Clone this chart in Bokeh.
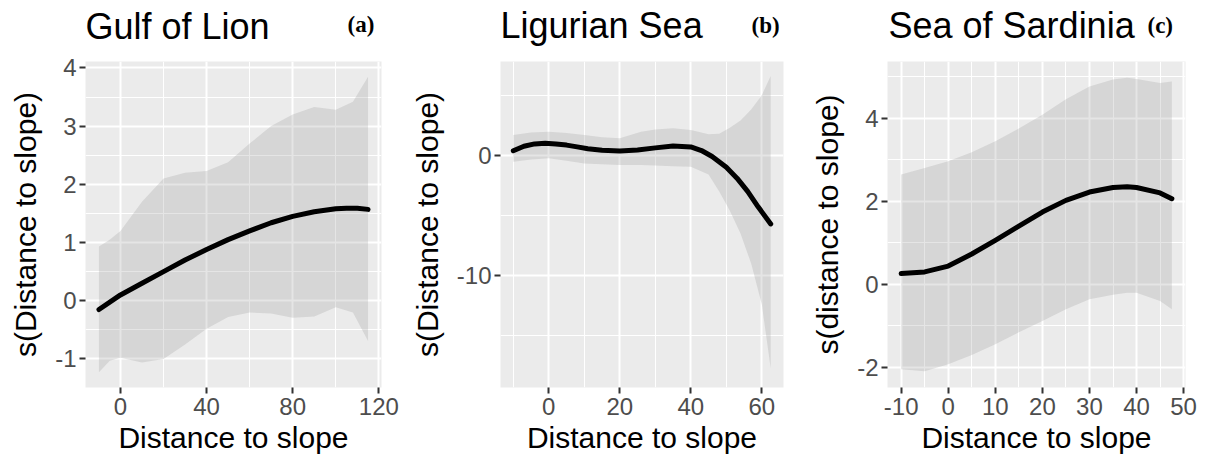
from bokeh.plotting import figure
from bokeh.layouts import row, column
from bokeh.models import FixedTicker, Range1d
from bokeh.core.properties import value
from bokeh.embed import file_html
from bokeh.resources import INLINE

# ---------------- data ----------------
# (a) Gulf of Lion
xa_fit = [-10, 0, 10, 20, 30, 40, 50, 60, 70, 80, 90, 100, 105, 110, 115]
fit_a = [-0.15, 0.1, 0.3, 0.5, 0.7, 0.88, 1.05, 1.2, 1.34, 1.45, 1.53, 1.58, 1.59, 1.59, 1.57]
xa_band = [-10, -5, 0, 10, 20, 30, 40, 50, 60, 70, 80, 90, 100, 108, 115]
upper_a = [0.93, 1.05, 1.2, 1.7, 2.1, 2.2, 2.23, 2.38, 2.7, 3.0, 3.2, 3.33, 3.28, 3.42, 3.85]
lower_a = [-1.23, -1.03, -0.98, -1.06, -1.0, -0.75, -0.48, -0.28, -0.2, -0.22, -0.29, -0.27, -0.11, -0.2, -0.69]

# (b) Ligurian Sea
xb_fit = [-10, -7, -4, -1, 2, 5, 8, 11, 15, 20, 25, 30, 35, 40, 43, 46, 50, 53, 56, 59, 62.5]
fit_b = [0.38, 0.75, 0.95, 1.0, 0.95, 0.85, 0.7, 0.55, 0.42, 0.36, 0.45, 0.62, 0.78, 0.7, 0.4, -0.1, -1.0, -1.9, -3.0, -4.3, -5.7]
xb_band = [-10, -5, 0, 5, 10, 15, 20, 26, 30, 35, 40, 45, 48, 51, 54, 57, 60, 62.5]
upper_b = [1.7, 1.9, 1.97, 1.85, 1.7, 1.5, 1.42, 1.95, 2.15, 2.25, 2.1, 1.75, 1.8, 2.3, 2.9, 3.8, 5.0, 6.6]
lower_b = [-0.53, -0.35, -0.25, -0.45, -0.67, -0.75, -0.8, -0.81, -0.85, -0.9, -0.95, -1.6, -3.0, -4.6, -6.5, -9.0, -12.4, -17.7]

# (c) Sea of Sardinia
xc = [-10, -5, 0, 5, 10, 15, 20, 25, 30, 35, 38, 40, 45, 47.5]
fit_c = [0.26, 0.3, 0.44, 0.73, 1.06, 1.4, 1.74, 2.02, 2.22, 2.33, 2.35, 2.33, 2.2, 2.06]
upper_c = [2.64, 2.8, 2.96, 3.18, 3.44, 3.75, 4.08, 4.45, 4.76, 4.93, 4.97, 4.94, 4.84, 4.88]
lower_c = [-2.04, -2.09, -1.92, -1.7, -1.44, -1.15, -0.88, -0.6, -0.36, -0.25, -0.2, -0.2, -0.4, -0.6]

titles = ["Gulf of Lion", "Ligurian Sea", "Sea of Sardinia"]
tags = ["(a)", "(b)", "(c)"]
ylabels = ["s(Distance to slope)", "s(Distance to slope)", "s(distance to slope)"]
xlabel = "Distance to slope"

xticks_a = [0, 40, 80, 120]
yticks_a = [-1, 0, 1, 2, 3, 4]
xticks_b = [0, 20, 40, 60]
yticks_b = [-10, 0]
xticks_c = [-10, 0, 10, 20, 30, 40, 50]
yticks_c = [-2, 0, 2, 4]

HEAD = 50
TOP = 11
FRAME_H = 326
TITLE_PX = 36
TAG_PX = 23


def minors(ticks, step):
    return [t + step / 2 for t in [ticks[0] - step] + ticks]


def header(width, title, tag, tx, ty, gx, gy):
    h = figure(width=width, height=HEAD, x_range=Range1d(0, width),
               y_range=Range1d(0, HEAD), min_border=0,
               x_axis_type=None, y_axis_type=None,
               output_backend="svg", toolbar_location=None)
    h.grid.visible = False
    h.outline_line_color = None
    h.background_fill_color = "white"
    h.border_fill_color = "white"
    # rendered baseline sits about a third of the font size below the anchor
    h.text(x=[tx], y=[HEAD - ty + TITLE_PX / 3], text=[title],
           text_font=value("Liberation Sans"), text_font_size=f"{TITLE_PX}px",
           text_color="black", text_baseline="alphabetic")
    h.text(x=[gx], y=[HEAD - gy + TAG_PX / 3], text=[tag],
           text_font=value("Liberation Serif"), text_font_style="bold",
           text_font_size=f"{TAG_PX}px", text_color="black",
           text_baseline="alphabetic")
    return h


def panel(xfit, fit, xband, up, lo, xr, yr, xt, xstep, yt, ystep, ylabel, bl, fw, br):
    p = figure(frame_width=fw, frame_height=FRAME_H, min_border_left=bl,
               min_border_right=br, min_border_top=TOP, min_border_bottom=78,
               x_range=Range1d(*xr), y_range=Range1d(*yr),
               output_backend="svg", toolbar_location=None)
    p.background_fill_color = "#EBEBEB"
    p.border_fill_color = "white"
    p.outline_line_color = None

    p.xaxis.ticker = FixedTicker(ticks=xt, minor_ticks=minors(xt, xstep))
    p.yaxis.ticker = FixedTicker(ticks=yt, minor_ticks=minors(yt, ystep))
    p.xgrid.ticker = p.xaxis.ticker
    p.ygrid.ticker = p.yaxis.ticker
    p.xaxis.major_label_overrides = {t: str(t) for t in xt}
    p.yaxis.major_label_overrides = {t: str(t) for t in yt}
    for g in (p.xgrid, p.ygrid):
        g.grid_line_color = "white"
        g.grid_line_width = 2
        g.minor_grid_line_color = "white"
        g.minor_grid_line_width = 1

    for ax in (p.xaxis, p.yaxis):
        ax.axis_line_color = None
        ax.major_tick_line_color = "#333333"
        ax.major_tick_line_width = 2
        ax.major_tick_out = 6
        ax.major_tick_in = 0
        ax.minor_tick_line_color = None
        ax.major_label_text_font = "Liberation Sans"
        ax.major_label_text_font_size = "24px"
        ax.major_label_text_color = "#4D4D4D"
        ax.axis_label_text_font = "Liberation Sans"
        ax.axis_label_text_font_size = "30px"
        ax.axis_label_text_font_style = "normal"
        ax.axis_label_text_color = "black"
    p.xaxis.major_label_standoff = 4
    p.yaxis.major_label_standoff = 3
    p.xaxis.axis_label_standoff = 3
    p.yaxis.axis_label_standoff = 10
    p.xaxis.axis_label = xlabel
    p.yaxis.axis_label = ylabel

    p.varea(x=xband, y1=lo, y2=up, fill_color="#999999", fill_alpha=0.25)
    p.line(xfit, fit, line_color="black", line_width=5, line_cap="round",
           line_join="round")
    return p


ha = header(400, titles[0], tags[0], 85, 38, 347, 32)
hb = header(400, titles[1], tags[1], 500 - 400, 37, 751 - 400, 33)
hc = header(406, titles[2], tags[2], 888 - 800, 37, 1147 - 800, 33)

pa = panel(xa_fit, fit_a, xa_band, upper_a, lower_a, (-16.25, 121.25), (-1.49, 4.11),
           xticks_a, 40, yticks_a, 1, ylabels[0], 85, 296, 19)
pb = panel(xb_fit, fit_b, xb_band, upper_b, lower_b, (-13.6, 66.1), (-19.3, 7.8),
           xticks_b, 20, yticks_b, 10, ylabels[1], 100, 283, 17)
pc = panel(xc, fit_c, xc, upper_c, lower_c, (-12.9, 50.4), (-2.48, 5.36),
           xticks_c, 10, yticks_c, 2, ylabels[2], 87, 298, 21)

layout = column(row(ha, hb, hc, spacing=0), row(pa, pb, pc, spacing=0), spacing=0)
open("out.html", "w").write(file_html(layout, INLINE))
